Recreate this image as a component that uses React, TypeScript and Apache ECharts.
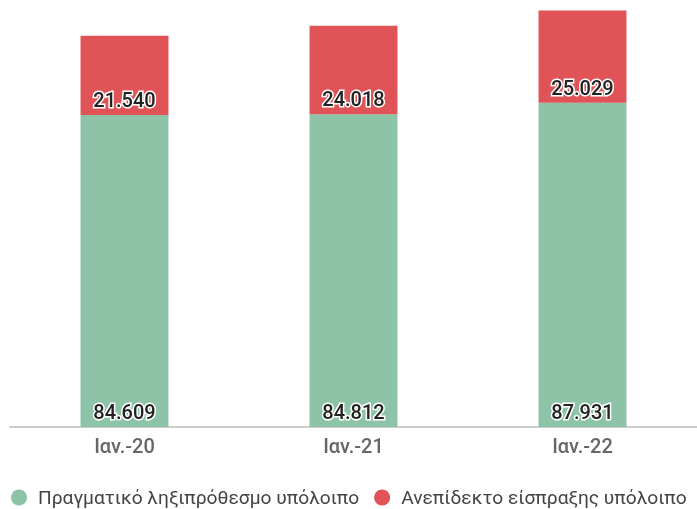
import React, { useEffect, useRef } from "react";
import * as echarts from "echarts";

const categories = ["Ιαν.-20", "Ιαν.-21", "Ιαν.-22"];
const actualOverdue = [84609, 84812, 87931];
const uncollectible = [21540, 24018, 25029];
const seriesNames = ["Πραγματικό ληξιπρόθεσμο υπόλοιπο", "Ανεπίδεκτο είσπραξης υπόλοιπο"];

const fmt = (v: number) => v.toLocaleString("de-DE");

export default function App() {
  const ref = useRef<HTMLDivElement>(null);
  useEffect(() => {
    if (!ref.current) return;
    const chart = echarts.init(ref.current, null, { renderer: "svg" });
    const label = {
      show: true,
      position: "insideBottom",
      distance: 5,
      color: "#222",
      fontFamily: "Roboto",
      fontWeight: 500,
      fontSize: 20,
      textBorderColor: "#fff",
      textBorderWidth: 3,
      formatter: (p: any) => fmt(p.value),
    };
    chart.setOption({
      animation: false,
      textStyle: { fontFamily: "Roboto" },
      grid: { left: 10, right: 0, top: 3, bottom: 82, containLabel: false },
      legend: {
        bottom: 2,
        left: 11,
        width: 760,
        padding: 0,
        icon: "circle",
        itemWidth: 16,
        itemHeight: 16,
        itemGap: 15,
        textStyle: { fontSize: 19.2, color: "#444", fontFamily: "Roboto", padding: [0, 0, 0, 6] },
        data: seriesNames,
      },
      xAxis: {
        type: "category",
        data: categories,
        axisLine: { lineStyle: { color: "#ccc", width: 2 } },
        axisTick: { show: false },
        axisLabel: { color: "#666", fontSize: 20, fontWeight: 500, margin: 9 },
      },
      yAxis: {
        type: "value",
        min: 0,
        max: 115000,
        show: false,
        splitLine: { show: false },
      },
      series: [
        {
          name: seriesNames[0],
          type: "bar",
          stack: "a",
          data: actualOverdue,
          barWidth: "38.4%",
          itemStyle: { color: "#8dc4a8" },
          label,
        },
        {
          name: seriesNames[1],
          type: "bar",
          stack: "a",
          data: uncollectible,
          itemStyle: { color: "#e05356" },
          label,
        },
      ],
    });
    return () => chart.dispose();
  }, []);
  return <div ref={ref} style={{ width: 697, height: 509, position: "fixed", left: 0, top: 0 }} />;
}
